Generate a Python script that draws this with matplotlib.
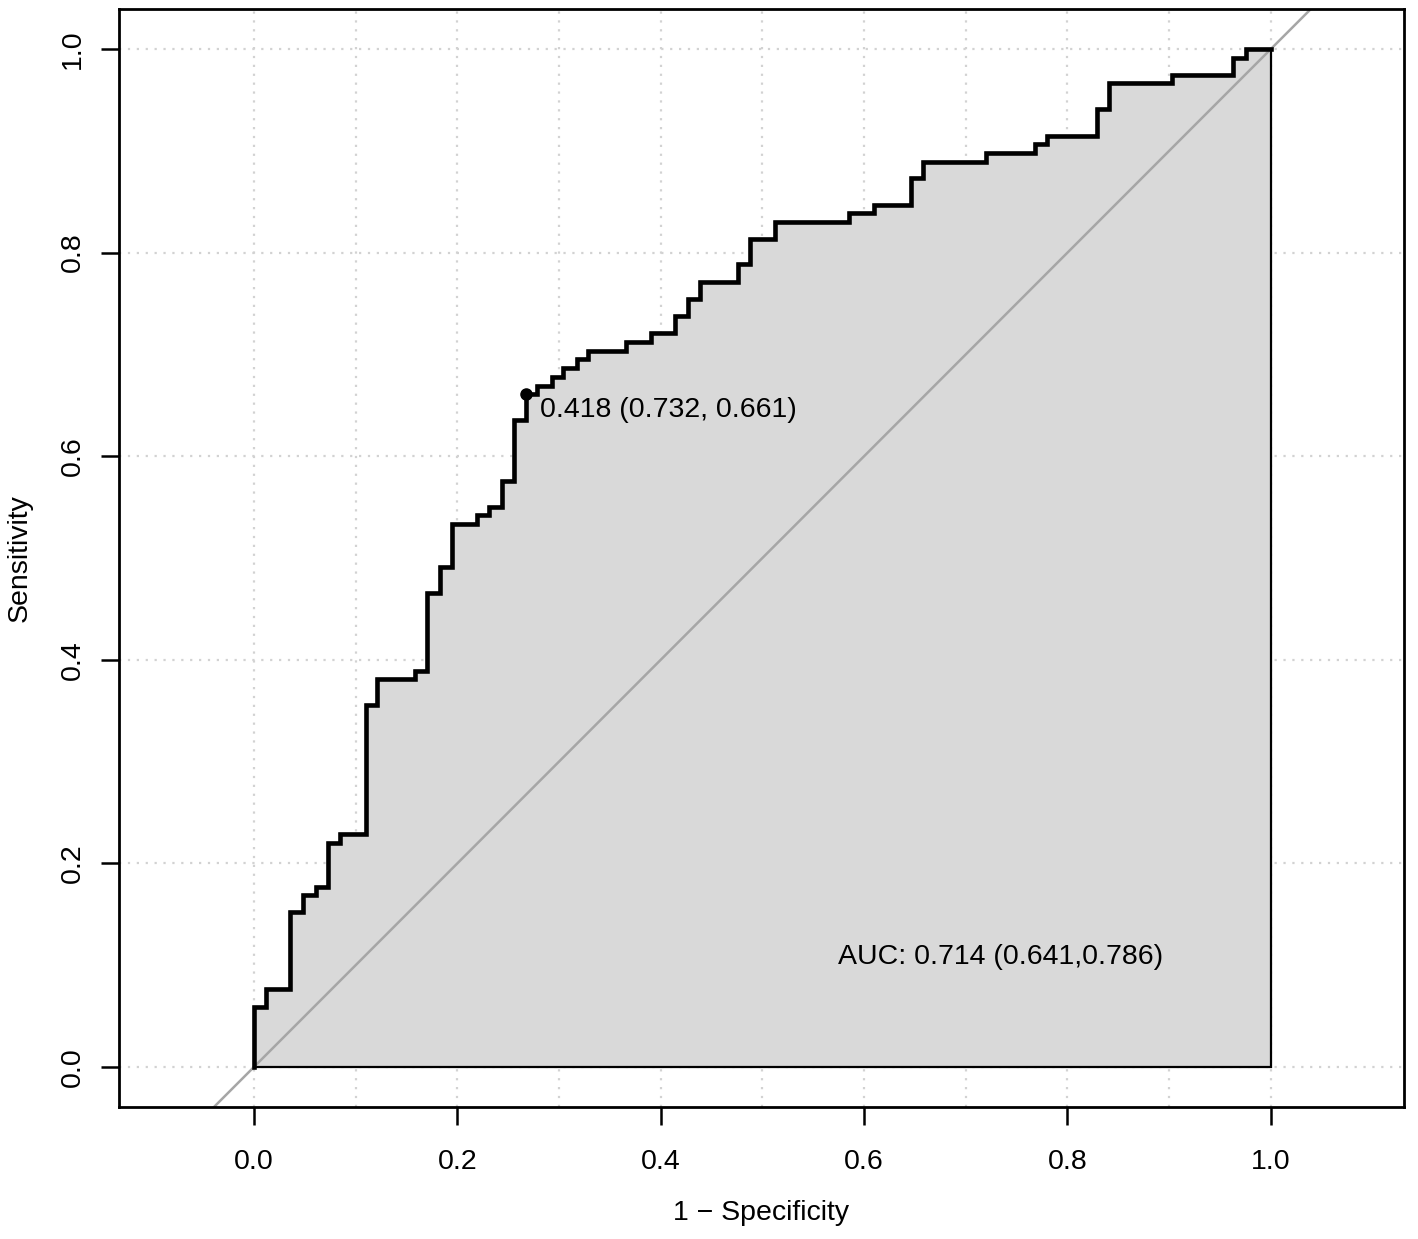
import matplotlib
matplotlib.use("Agg")
import matplotlib.pyplot as plt
import numpy as np

plt.rcParams['font.family'] = ['Liberation Sans', 'DejaVu Sans']

# ROC-Kurve: x-Position jeder senkrechten Stufe (1 - Spezifitaet) und Hoehe oben (Sensitivitaet)
fpr = [0.0, 0.0, 0.012, 0.035, 0.048, 0.061, 0.073, 0.085, 0.110, 0.121,
       0.158, 0.170, 0.183, 0.195, 0.219, 0.231, 0.244, 0.256, 0.268, 0.278,
       0.293, 0.304, 0.318, 0.328, 0.366, 0.390, 0.414, 0.427, 0.439, 0.476,
       0.488, 0.512, 0.585, 0.610, 0.646, 0.658, 0.720, 0.768, 0.780, 0.829,
       0.841, 0.903, 0.963, 0.976, 1.0]
tpr = [0.0, 0.059, 0.077, 0.152, 0.169, 0.177, 0.220, 0.229, 0.356, 0.381,
       0.389, 0.466, 0.491, 0.533, 0.542, 0.550, 0.576, 0.636, 0.661, 0.669,
       0.678, 0.687, 0.695, 0.703, 0.712, 0.721, 0.738, 0.754, 0.771, 0.789,
       0.813, 0.830, 0.839, 0.847, 0.873, 0.889, 0.898, 0.907, 0.915, 0.941,
       0.967, 0.974, 0.991, 1.0, 1.0]

# bester Schwellenwert
thres = 0.418
thres_spec = 0.732
thres_sens = 0.661

auc = 0.714
auc_ci = (0.641, 0.786)

fs = 20.5

fig = plt.figure(figsize=(14.18, 12.39), dpi=100)
ax = fig.add_axes([119 / 1418, 132 / 1239, 1285 / 1418, 1098 / 1239])
ax.set_xlim(-0.1327, 1.1309)
ax.set_ylim(-0.0393, 1.0393)

# Gitter
for gx in np.arange(0, 1.01, 0.1):
    ax.axvline(gx, color='#d2d2d2', lw=1.6, ls=(0, (1, 3)), zorder=0)
for gy in np.arange(0, 1.01, 0.2):
    ax.axhline(gy, color='#d2d2d2', lw=1.6, ls=(0, (1, 3)), zorder=0)

# Stufen-Vertices bauen (horizontal, dann senkrecht)
xs, ys = [fpr[0]], [tpr[0]]
for i in range(1, len(fpr)):
    xs += [fpr[i], fpr[i]]
    ys += [tpr[i - 1], tpr[i]]
xs = np.array(xs)
ys = np.array(ys)

# Flaeche unter der Kurve
poly_x = np.concatenate([xs, [1.0, 0.0]])
poly_y = np.concatenate([ys, [0.0, 0.0]])
ax.fill(poly_x, poly_y, facecolor='#d9d9d9', edgecolor='black', lw=1.6, zorder=1)

# Diagonale
ax.plot([-0.5, 1.5], [-0.5, 1.5], color='#a6a6a6', lw=1.8, zorder=2)

# ROC-Kurve
ax.plot(xs, ys, color='black', lw=3.3, solid_joinstyle='miter', zorder=3)

# Schwellenwert-Punkt
ax.plot(1 - thres_spec, thres_sens, 'o', color='black', ms=8, zorder=4)
ax.text(1 - thres_spec + 0.013, thres_sens - 0.016,
        f"{thres:.3f} ({thres_spec:.3f}, {thres_sens:.3f})",
        fontsize=fs, ha='left', va='center', zorder=5)

ax.text(0.574, 0.108, f"AUC: {auc:.3f} ({auc_ci[0]:.3f},{auc_ci[1]:.3f})",
        fontsize=fs, ha='left', va='center', zorder=5)

ticks = np.arange(0, 1.01, 0.2)
ax.set_xticks(ticks)
ax.set_yticks(ticks)
ax.set_xticklabels([f"{t:.1f}" for t in ticks])
ax.set_yticklabels([f"{t:.1f}" for t in ticks])
ax.tick_params(axis='both', direction='out', length=13, width=1.8, labelsize=fs)
ax.tick_params(axis='x', pad=17)
ax.tick_params(axis='y', pad=11, labelrotation=90)
for lab in ax.get_yticklabels():
    lab.set_va('center')

for s in ax.spines.values():
    s.set_linewidth(2.0)

ax.set_xlabel("1 \u2212 Specificity", fontsize=fs, va='center')
ax.xaxis.set_label_coords(0.4996, -0.0965)
ax.set_ylabel("Sensitivity", fontsize=fs, va='center')
ax.yaxis.set_label_coords(-0.0775, 0.5)

fig.savefig("out.png", dpi=100)
